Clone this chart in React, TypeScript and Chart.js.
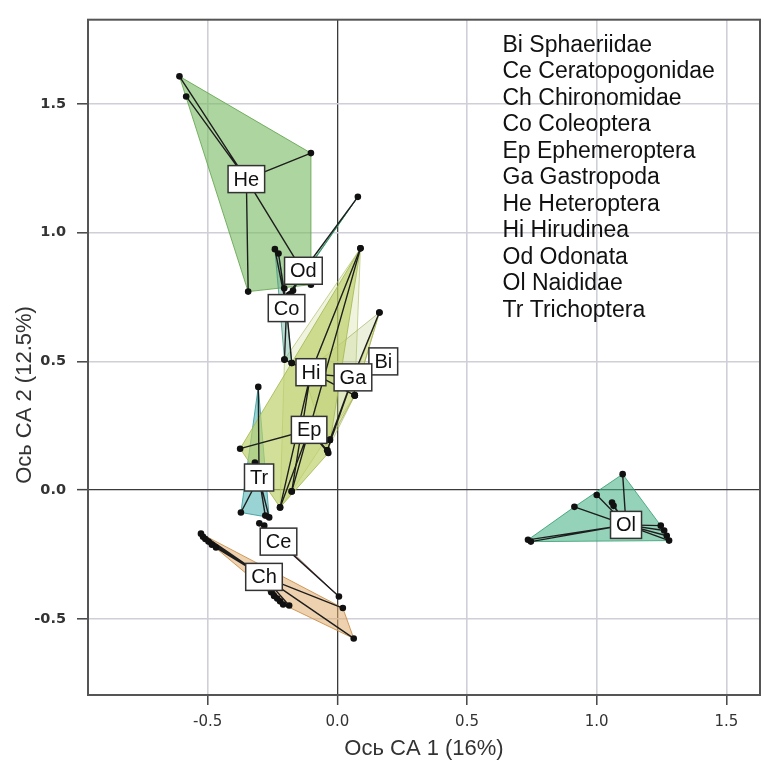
import React, { useEffect, useRef } from 'react';
import { Chart, registerables } from 'chart.js';

Chart.register(...registerables);

// ---------- data ----------
const X_TICKS = [-0.5, 0, 0.5, 1, 1.5];
const Y_TICKS = [-0.5, 0, 0.5, 1, 1.5];
const X_RANGE = [-0.9616, 1.6296];
const Y_RANGE = [-0.7957, 1.8271];

const X_TITLE = 'Ось CA 1 (16%)';
const Y_TITLE = 'Ось CA 2 (12.5%)';

const GROUP_CODES = ['Bi', 'Ce', 'Ch', 'Co', 'Ep', 'Ga', 'He', 'Hi', 'Od', 'Ol', 'Tr'];
const GROUP_NAMES = [
  'Sphaeriidae', 'Ceratopogonidae', 'Chironomidae', 'Coleoptera', 'Ephemeroptera',
  'Gastropoda', 'Heteroptera', 'Hirudinea', 'Odonata', 'Naididae', 'Trichoptera',
];

// label (centroid) positions, same order as GROUP_CODES
const LABEL_X = [0.177, -0.227, -0.283, -0.196, -0.109, 0.060, -0.351, -0.102, -0.131, 1.113, -0.302];
const LABEL_Y = [0.500, -0.200, -0.337, 0.707, 0.234, 0.438, 1.208, 0.458, 0.852, -0.135, 0.049];

const BI_X = [0.162, 0.067, -0.029];
const BI_Y = [0.690, 0.368, 0.195];
const CE_X = [-0.301, -0.282, 0.006];
const CE_Y = [-0.129, -0.138, -0.413];
const CH_X = [-0.526, -0.518, -0.509, -0.497, -0.484, -0.468, -0.255, -0.244, -0.232, -0.221, -0.209, -0.186, 0.021, 0.063];
const CH_Y = [-0.169, -0.181, -0.190, -0.200, -0.212, -0.223, -0.397, -0.411, -0.421, -0.432, -0.444, -0.448, -0.458, -0.576];
const CO_X = [-0.241, -0.227, -0.205, -0.204, -0.176];
const CO_Y = [0.936, 0.919, 0.784, 0.507, 0.494];
const EP_X = [0.089, -0.375, -0.221, -0.176, -0.029, -0.039, -0.035];
const EP_Y = [0.939, 0.161, -0.067, -0.005, 0.195, 0.155, 0.144];
const GA_X = [0.162, 0.067, -0.029, -0.039, -0.129];
const GA_Y = [0.690, 0.368, 0.195, 0.155, 0.454];
const HE_X = [-0.609, -0.583, -0.102, -0.344, -0.102];
const HE_Y = [1.607, 1.529, 1.309, 0.771, 0.798];
const HI_X = [-0.204, -0.176, 0.089, -0.176, -0.221, 0.067];
const HI_Y = [0.507, 0.494, 0.939, -0.005, -0.067, 0.368];
const OD_X = [0.079, -0.186, -0.171, -0.179];
const OD_Y = [1.139, 0.759, 0.775, 0.763];
const OL_X = [1.100, 1.000, 1.059, 1.065, 0.914, 0.735, 0.746, 1.247, 1.260, 1.270, 1.279];
const OL_Y = [0.062, -0.019, -0.048, -0.061, -0.065, -0.193, -0.200, -0.138, -0.157, -0.177, -0.196];
const TR_X = [-0.305, -0.318, -0.372, -0.263, -0.278];
const TR_Y = [0.401, 0.107, -0.087, -0.106, -0.099];

const GROUP_XS = [BI_X, CE_X, CH_X, CO_X, EP_X, GA_X, HE_X, HI_X, OD_X, OL_X, TR_X];
const GROUP_YS = [BI_Y, CE_Y, CH_Y, CO_Y, EP_Y, GA_Y, HE_Y, HI_Y, OD_Y, OL_Y, TR_Y];
// whether star lines are drawn from the label to the points
const GROUP_STARS = [false, true, true, true, true, true, true, true, true, true, true];

// ---------- styles ----------
const FILL_COLORS = [
  'rgba(200,210,100,0.35)', // Bi
  'rgba(190,130,110,0.3)', // Ce
  'rgba(224,172,108,0.55)', // Ch
  'rgba(90,170,150,0.4)', // Co
  'rgba(188,208,104,0.68)', // Ep
  'rgba(170,190,100,0.22)', // Ga
  'rgba(122,188,100,0.62)', // He
  'rgba(185,205,110,0.22)', // Hi
  'rgba(60,160,110,0.7)', // Od
  'rgba(70,180,135,0.58)', // Ol
  'rgba(70,175,175,0.55)', // Tr
];
const EDGE_COLORS = [
  'rgba(170,180,80,0.8)',
  'rgba(160,100,90,0.7)',
  'rgba(200,140,70,0.85)',
  'rgba(70,150,130,0.8)',
  'rgba(165,185,85,0.85)',
  'rgba(150,170,80,0.6)',
  'rgba(100,165,80,0.85)',
  'rgba(165,185,90,0.6)',
  'rgba(50,150,100,0.9)',
  'rgba(55,160,115,0.85)',
  'rgba(55,155,155,0.85)',
];

type P = { x: number; y: number };

function convexHull(pts: P[]): P[] {
  const p = pts.slice().sort((a, b) => a.x - b.x || a.y - b.y);
  if (p.length < 3) return p;
  const cross = (o: P, a: P, b: P) => (a.x - o.x) * (b.y - o.y) - (a.y - o.y) * (b.x - o.x);
  const lower: P[] = [];
  for (const q of p) {
    while (lower.length >= 2 && cross(lower[lower.length - 2], lower[lower.length - 1], q) <= 0) lower.pop();
    lower.push(q);
  }
  const upper: P[] = [];
  for (const q of p.slice().reverse()) {
    while (upper.length >= 2 && cross(upper[upper.length - 2], upper[upper.length - 1], q) <= 0) upper.pop();
    upper.push(q);
  }
  upper.pop();
  lower.pop();
  return lower.concat(upper);
}

function buildDatasets() {
  const hulls: any[] = [];
  const stars: any[] = [];
  const allPts: P[] = [];
  GROUP_CODES.forEach((code, i) => {
    const pts: P[] = GROUP_XS[i].map((x, k) => ({ x, y: GROUP_YS[i][k] }));
    allPts.push(...pts);
    const h = convexHull(pts);
    hulls.push({
      label: code + ' hull',
      data: [...h, h[0]],
      showLine: true,
      fill: 'shape',
      backgroundColor: FILL_COLORS[i],
      borderColor: EDGE_COLORS[i],
      borderWidth: 1,
      pointRadius: 0,
      order: 3,
    });
    if (GROUP_STARS[i]) {
      const c = { x: LABEL_X[i], y: LABEL_Y[i] };
      const path: P[] = [c];
      pts.forEach((q) => {
        path.push(q, c);
      });
      stars.push({
        label: code + ' star',
        data: path,
        showLine: true,
        fill: false,
        borderColor: '#1e1e1e',
        borderWidth: 1.4,
        pointRadius: 0,
        order: 2,
      });
    }
  });
  const points = {
    label: 'points',
    data: allPts,
    showLine: false,
    pointRadius: 3.3,
    pointBackgroundColor: '#111',
    pointBorderWidth: 0,
    order: 1,
  };
  return [...hulls, ...stars, points];
}

const framePlugin = {
  id: 'frame',
  afterDraw(chart: any) {
    const { ctx, chartArea: a } = chart;
    ctx.save();
    ctx.strokeStyle = '#555';
    ctx.lineWidth = 2;
    ctx.strokeRect(a.left, a.top, a.right - a.left, a.bottom - a.top);
    ctx.restore();
  },
};

const labelPlugin = {
  id: 'groupLabels',
  afterDatasetsDraw(chart: any) {
    const { ctx, scales } = chart;
    ctx.save();
    ctx.font = '20px "Liberation Sans", Arial, sans-serif';
    ctx.textAlign = 'center';
    ctx.textBaseline = 'middle';
    GROUP_CODES.forEach((code, i) => {
      const px = scales.x.getPixelForValue(LABEL_X[i]);
      const py = scales.y.getPixelForValue(LABEL_Y[i]);
      const w = ctx.measureText(code).width + 11;
      const h = 27;
      ctx.fillStyle = '#fff';
      ctx.fillRect(px - w / 2, py - h / 2, w, h);
      ctx.strokeStyle = '#333';
      ctx.lineWidth = 1.5;
      ctx.strokeRect(px - w / 2, py - h / 2, w, h);
      ctx.fillStyle = '#111';
      ctx.fillText(code, px, py + 1);
    });
    ctx.restore();
  },
};

const legendPlugin = {
  id: 'codeLegend',
  afterDraw(chart: any) {
    const { ctx, chartArea: a } = chart;
    ctx.save();
    ctx.font = '23px "Liberation Sans", Arial, sans-serif';
    ctx.fillStyle = '#111';
    ctx.textAlign = 'left';
    ctx.textBaseline = 'alphabetic';
    GROUP_CODES.forEach((code, i) => {
      ctx.fillText(code + ' ' + GROUP_NAMES[i], a.left + 414.5, a.top + 32 + i * 26.5);
    });
    ctx.restore();
  },
};

const yTitlePlugin = {
  id: 'yTitle',
  afterDraw(chart: any) {
    const { ctx } = chart;
    ctx.save();
    ctx.translate(25, 395);
    ctx.rotate(-Math.PI / 2);
    ctx.font = '22px "Liberation Sans", Arial, sans-serif';
    ctx.fillStyle = '#333';
    ctx.textAlign = 'center';
    ctx.textBaseline = 'middle';
    ctx.fillText(Y_TITLE, 0, 0);
    ctx.restore();
  },
};

const gridColor = (c: any) => (c.tick && c.tick.value === 0 ? '#3a3a3a' : '#cfcfd8');
const gridWidth = (c: any) => (c.tick && c.tick.value === 0 ? 1.3 : 1.6);

export default function App() {
  const ref = useRef<HTMLCanvasElement>(null);
  useEffect(() => {
    const chart = new Chart(ref.current as HTMLCanvasElement, {
      type: 'scatter',
      data: { datasets: buildDatasets() },
      options: {
        responsive: false,
        animation: false,
        events: [],
        layout: { padding: { top: 17, right: 1, left: 0, bottom: 0 } },
        plugins: { legend: { display: false }, tooltip: { enabled: false } },
        scales: {
          x: {
            type: 'linear',
            bounds: 'data',
            min: X_RANGE[0],
            max: X_RANGE[1],
            afterBuildTicks: (s: any) => {
              s.ticks = X_TICKS.map((v) => ({ value: v }));
            },
            afterFit: (s: any) => {
              s.height = 69;
            },
            grid: { color: gridColor, lineWidth: gridWidth, tickLength: 10, tickColor: '#444', tickWidth: 1.5 },
            border: { display: true, color: '#555', width: 2 },
            ticks: {
              callback: (v: any) => Number(v).toFixed(1),
              font: { family: '"DejaVu Sans", sans-serif', size: 15 },
              color: '#333',
              padding: 8,
              maxRotation: 0,
              autoSkip: false,
            },
            title: {
              display: true,
              text: X_TITLE,
              font: { family: '"Liberation Sans", Arial, sans-serif', size: 22 },
              color: '#333',
              padding: { top: 0, bottom: 2 },
            },
          },
          y: {
            type: 'linear',
            bounds: 'data',
            min: Y_RANGE[0],
            max: Y_RANGE[1],
            afterBuildTicks: (s: any) => {
              s.ticks = Y_TICKS.map((v) => ({ value: v }));
            },
            afterFit: (s: any) => {
              s.width = 88;
            },
            grid: { color: gridColor, lineWidth: gridWidth, tickLength: 11, tickColor: '#444', tickWidth: 1.5 },
            border: { display: true, color: '#555', width: 2 },
            ticks: {
              callback: (v: any) => Number(v).toFixed(1),
              font: { family: '"DejaVu Sans", sans-serif', size: 14.5, weight: 'bold' },
              color: '#333',
              padding: 11,
              autoSkip: false,
            },
          },
        },
      },
      plugins: [labelPlugin, framePlugin, legendPlugin, yTitlePlugin],
    } as any);
    return () => chart.destroy();
  }, []);
  return (
    <div style={{ position: 'fixed', left: 0, top: 0, width: 764, height: 764, background: '#fff' }}>
      <canvas ref={ref} width={764} height={764} style={{ display: 'block', width: 764, height: 764 }} />
    </div>
  );
}
